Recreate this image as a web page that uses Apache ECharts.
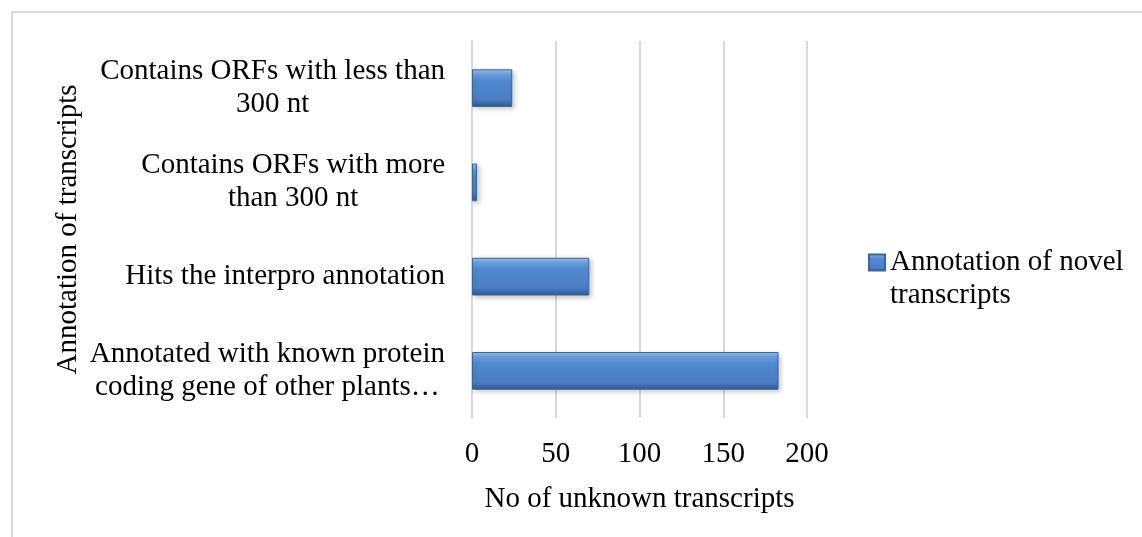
<!DOCTYPE html>
<html>
<head>
<meta charset="utf-8">
<script src="https://cdn.jsdelivr.net/npm/echarts@6/dist/echarts.min.js"></script>
<style>
  html, body { margin: 0; padding: 0; background: #fff; }
  #chart { width: 1142px; height: 537px; }
</style>
</head>
<body>
<div id="chart"></div>
<script>
// categories, bottom to top (as the category axis draws them)
const categories = [
  'Annotated with known protein\ncoding gene of other plants\u2026',
  'Hits the interpro annotation',
  'Contains ORFs with more\nthan 300 nt',
  'Contains ORFs with less than\n300 nt'
];
const counts = [183, 70, 3, 24];
const seriesName = 'Annotation of novel transcripts';
const xTicks = [0, 50, 100, 150, 200];

const serif = '"Liberation Serif", "Times New Roman", serif';

const barFill = new echarts.graphic.LinearGradient(0, 0, 0, 1, [
  { offset: 0, color: '#9cc6f2' },
  { offset: 0.14, color: '#6a9fde' },
  { offset: 0.3, color: '#5289d0' },
  { offset: 0.8, color: '#4a7ec3' },
  { offset: 1, color: '#2f5a92' }
]);

const myChart = echarts.init(document.getElementById('chart'));

const option = {
  animation: false,
  backgroundColor: '#fff',
  textStyle: { fontFamily: serif },
  graphic: [
    {
      type: 'rect',
      shape: { x: 12, y: 12, width: 1300, height: 700 },
      style: { fill: 'none', stroke: '#d9d9d9', lineWidth: 2 },
      silent: true
    }
  ],
  grid: {
    left: 472,
    top: 41,
    width: 335,
    height: 377
  },
  legend: {
    left: 868,
    top: 213,
    padding: 0,
    itemWidth: 16,
    itemHeight: 16,
    itemGap: 6,
    icon: 'rect',
    data: [seriesName],
    // blank first line keeps the icon level with the first text line
    formatter: function (name) { return '\n' + name; },
    textStyle: {
      fontFamily: serif,
      fontSize: 29,
      color: '#000',
      lineHeight: 33,
      width: 245,
      overflow: 'break'
    }
  },
  xAxis: {
    type: 'value',
    min: xTicks[0],
    max: xTicks[xTicks.length - 1],
    interval: 50,
    name: 'No of unknown transcripts',
    nameLocation: 'middle',
    nameGap: 67,
    nameTextStyle: { fontFamily: serif, fontSize: 29, color: '#000' },
    axisLine: { show: false },
    axisTick: { show: false },
    axisLabel: { fontFamily: serif, fontSize: 29, color: '#000', margin: 22 },
    splitLine: { show: true, lineStyle: { color: '#d9d9d9', width: 2 } }
  },
  yAxis: {
    type: 'category',
    data: categories,
    name: 'Annotation of transcripts',
    nameLocation: 'middle',
    nameRotate: 90,
    nameGap: 389,
    nameTextStyle: { fontFamily: serif, fontSize: 29, color: '#000' },
    axisLine: { show: true, lineStyle: { color: '#d9d9d9', width: 2 } },
    axisTick: { show: false },
    axisLabel: {
      margin: 27,
      align: 'right',
      formatter: function (v) {
        return v.split('\n').map(function (s) { return '{c|' + s + '}'; }).join('\n');
      },
      rich: {
        c: {
          fontFamily: serif,
          fontSize: 29,
          color: '#000',
          lineHeight: 33,
          align: 'center'
        }
      }
    }
  },
  series: [
    {
      name: seriesName,
      type: 'bar',
      data: counts,
      barCategoryGap: '60%',
      itemStyle: {
        color: barFill,
        borderColor: '#3b6598',
        borderWidth: 1,
        shadowBlur: 5,
        shadowColor: 'rgba(0,0,0,0.25)',
        shadowOffsetX: 2,
        shadowOffsetY: 2
      }
    }
  ]
};

myChart.setOption(option);
</script>
</body>
</html>
